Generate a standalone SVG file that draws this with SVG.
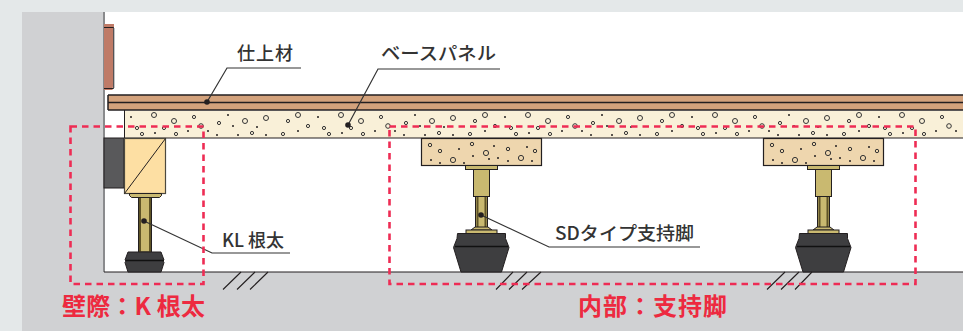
<svg xmlns="http://www.w3.org/2000/svg" width="963" height="331" viewBox="0 0 963 331">
<style>
.ol{stroke:#231f20;stroke-width:1.2}
.lead{fill:none;stroke:#333;stroke-width:1.2}
.dot{fill:#231f20}
.hatch{stroke:#231f20;stroke-width:1.100;fill:none}
.lbl{font-family:"Noto Sans CJK JP","Noto Sans",sans-serif;font-size:18px;fill:#333;font-weight:500}
.red{font-family:"Noto Sans CJK JP","Noto Sans",sans-serif;font-size:24px;font-weight:700;fill:#ed2a40}
.zone{fill:none;stroke:#ee2c54;stroke-width:2.6;stroke-dasharray:6.5 5}
.r1{fill:none;stroke:#333;stroke-width:1}
.r2{fill:none;stroke:#333;stroke-width:1}
.brass{fill:#c9b970;stroke:#231f20;stroke-width:1}
</style>
<defs>
<g id="speck">
<g class="r2"><circle cx="154" cy="115" r="2.5"/><circle cx="174" cy="121" r="2.5"/><circle cx="201" cy="126" r="2.3"/><circle cx="245" cy="121" r="2.5"/><circle cx="266" cy="118" r="2.5"/><circle cx="298" cy="115" r="2.5"/></g>
<g class="r1"><circle cx="137" cy="128" r="1.6"/><circle cx="142" cy="134" r="1.6"/><circle cx="164" cy="128" r="1.6"/><circle cx="176" cy="134" r="1.6"/><circle cx="194" cy="117" r="1.6"/><circle cx="219" cy="123" r="1.6"/><circle cx="252" cy="133" r="1.6"/><circle cx="288" cy="121" r="1.6"/><circle cx="283" cy="134" r="1.6"/><circle cx="308" cy="126" r="1.6"/></g>
<g class="dot"><circle cx="131" cy="117" r="1"/><circle cx="155" cy="133" r="1"/><circle cx="188" cy="131" r="1"/><circle cx="228" cy="115" r="1"/><circle cx="233" cy="126" r="1"/><circle cx="208" cy="131" r="1"/><circle cx="217" cy="135" r="1"/><circle cx="238" cy="135" r="1"/><circle cx="257" cy="127" r="1"/><circle cx="266" cy="135" r="1"/><circle cx="298" cy="131" r="1"/></g>
</g>
<pattern id="pSpeck" patternUnits="userSpaceOnUse" x="124" y="111" width="187" height="27">
<use href="#speck" transform="translate(-124,-111)"/>
</pattern>
<g id="support">
<rect x="421.500" y="138.500" width="120" height="27" fill="#eed6ae" class="ol"/>
<g class="r1"><circle cx="430" cy="145" r="1.7"/><circle cx="440" cy="151" r="1.7"/><circle cx="472" cy="144" r="1.7"/><circle cx="508" cy="149" r="1.7"/><circle cx="535" cy="151" r="1.7"/><circle cx="486" cy="153" r="2.6"/><circle cx="453" cy="160" r="2.6"/><circle cx="521" cy="158" r="2.6"/></g>
<g class="dot"><circle cx="459" cy="149" r="1"/><circle cx="494" cy="146" r="1"/><circle cx="527" cy="147" r="1"/><circle cx="431" cy="160" r="1"/><circle cx="440" cy="163" r="1"/><circle cx="464" cy="163" r="1"/><circle cx="473" cy="156" r="1"/><circle cx="489" cy="159" r="1"/><circle cx="498" cy="158" r="1"/><circle cx="508" cy="161" r="1"/><circle cx="532" cy="161" r="1"/></g>
<rect x="465.500" y="165.500" width="32" height="4" class="brass"/>
<rect x="473.500" y="169.500" width="16" height="27" class="brass"/>
<rect x="475.500" y="196.500" width="12" height="31" class="brass"/>
<path d="M477.500 197v30M485.500 197v30" stroke="#5e5326" stroke-width="2" fill="none"/>
<path d="M475 227h13l4 3h-21z" class="brass"/>
<rect x="466" y="230" width="31" height="3.500" class="brass"/>
<path d="M457.500 233.500h48v5l3.500 9-7.500 24.500h-40.500l-7.500-24.500 3.500-9z" fill="#3e3e40" stroke="#231f20" stroke-width="1"/>
<path d="M455 246.500h53" stroke="#111" stroke-width="1.600"/>
</g>
</defs>
<rect width="963" height="331" fill="#e4e8e9"/>
<g id="wall">
<rect x="22" y="12" width="941" height="319" fill="#d0d1d3"/>
<rect x="104" y="12" width="859" height="260" fill="#fff"/>
<path d="M104 12V272" fill="none" stroke="#8a8b8d" stroke-width="2"/>
<path d="M104 272H963" fill="none" stroke="#231f20" stroke-width="1.200"/>
</g>
<g id="baseboard">
<path d="M104 24h10v62h-1l-.5 4H104z" fill="#bf7b67"/>
<path d="M104 27.500h9.500V88.500H104" fill="none" stroke="#231f20" stroke-width="1"/>
<path d="M114 28V88" stroke="#8a8b8d" stroke-width="1"/>
</g>
<g id="flooring">
<rect x="108" y="95" width="855" height="15" fill="#d3a27c"/>
<path d="M108 95H963M108 102.500H963M108 110H963M108 95V110" stroke="#231f20" stroke-width="1.500" fill="none"/>
</g>
<g id="base-panel">
<rect x="124" y="111" width="839" height="27" fill="#f9f0d8"/>
<rect x="124" y="111" width="839" height="27" fill="url(#pSpeck)"/>
<path d="M124.500 110V138H963" fill="none" stroke="#231f20" stroke-width="1"/>
</g>
<g id="kl-joist">
<rect x="104" y="138" width="20" height="50" fill="#59595b" stroke="#231f20" stroke-width="1"/>
<rect x="124.500" y="138.500" width="41" height="55" fill="#fddfa3" stroke="#4d4a3f" stroke-width="1.200"/>
<path d="M124.500 193.500L165.500 138.500" stroke="#231f20" stroke-width="1"/>
<path d="M129.500 193.500h32v2l-2 2h-28l-2-2z" class="brass"/>
<rect x="138.500" y="197.500" width="13" height="54.500" class="brass"/>
<path d="M140 198v54M150 198v54" stroke="#5e5326" stroke-width="2" fill="none"/>
<path d="M128 252h33l3 8-1 1 1 1.500-3 9.500h-33l-3-9.500 1-1.500-1-1z" fill="#3e3e40" stroke="#231f20" stroke-width="1"/>
<path d="M126 260.500h38" stroke="#111" stroke-width="1.400"/>
</g>
<g id="support-1"><use href="#support"/></g>
<g id="support-2"><use href="#support" x="342"/></g>
<g id="hatching" class="hatch">
<path d="M223 289.500L241 272M237 289.500L255 272M250 289.500L268 272"/>
<path d="M496 289.500L513 272M509 289.500L527 272M522 289.500L541 272"/>
<path d="M767 289.500L785 272M781 289.500L799 272M795 289.500L812 272"/>
</g>
<g id="connectors">
<path class="lead" d="M207 102L227 68H301"/>
<circle class="dot" cx="207" cy="102" r="2.800"/>
<path class="lead" d="M348 125L378 69H500"/>
<circle class="dot" cx="348" cy="125" r="2.800"/>
<path class="lead" d="M144 221L212 253H290"/>
<circle class="dot" cx="144" cy="221" r="2.800"/>
<path class="lead" d="M481 215L549 247H700"/>
<circle class="dot" cx="481" cy="215" r="2.800"/>
</g>
<g id="zones">
<rect class="zone" x="70.500" y="126.500" width="133" height="157.500"/>
<rect class="zone" x="389.500" y="126.500" width="526" height="157.500"/>
</g>
<g id="labels">
<text class="lbl" x="237" y="60" textLength="56">仕上材</text>
<text class="lbl" x="381" y="60" textLength="115" lengthAdjust="spacingAndGlyphs">ベースパネル</text>
<text class="lbl" x="222" y="247" textLength="62" lengthAdjust="spacingAndGlyphs">KL 根太</text>
<text class="lbl" x="555" y="240" textLength="139" lengthAdjust="spacingAndGlyphs">SDタイプ支持脚</text>
<text class="red" x="62" y="315" textLength="143">壁際：K 根太</text>
<text class="red" x="578" y="315" textLength="149">内部：支持脚</text>
</g>
</svg>
